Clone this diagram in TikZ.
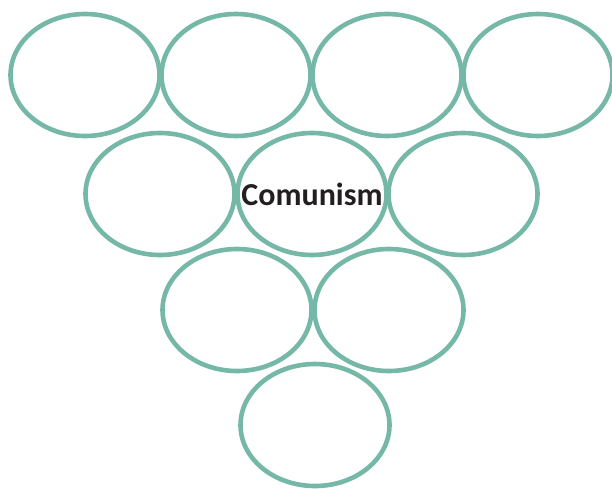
\documentclass[tikz,border=0pt]{standalone}
\usepackage{fontspec}
\setmainfont{Carlito}
\definecolor{bubblegreen}{RGB}{118, 184, 167}
\definecolor{textdark}{RGB}{35, 31, 32}
\usetikzlibrary{shapes.geometric}

\begin{document}
\begin{tikzpicture}[
    x=1pt, y=-1pt,
    every node/.append style={font=\bfseries},
  ]

  \tikzset{
    bubble/.style={
      ellipse, draw=bubblegreen, line width=4.6pt,
      minimum width=149pt, minimum height=122pt, inner sep=0pt,
    },
    bubble-label/.style={font=\fontsize{32}{36}\selectfont\bfseries, text=textdark},
  }

  \useasboundingbox (0, 0) rectangle (612, 488);

  %% ---------------- TOP ROW ----------------
  \node[bubble] (b11) at (85, 75) {};
  \node[bubble] (b12) at (236, 75) {};
  \node[bubble] (b13) at (387, 75) {};
  \node[bubble] (b14) at (538, 75) {};

  %% ---------------- SECOND ROW ----------------
  \node[bubble] (b21) at (160, 194) {};
  \node[bubble] (b22) at (312, 194) {};
  \node[bubble] (b23) at (463, 194) {};

  %% ---------------- THIRD ROW ----------------
  \node[bubble] (b31) at (237, 310) {};
  \node[bubble] (b32) at (389, 310) {};

  %% ---------------- BOTTOM ----------------
  \node[bubble] (b41) at (315, 425) {};

  % centre label
  \node[bubble-label] (title) at (b22) {Comunism};

\end{tikzpicture}
\end{document}
